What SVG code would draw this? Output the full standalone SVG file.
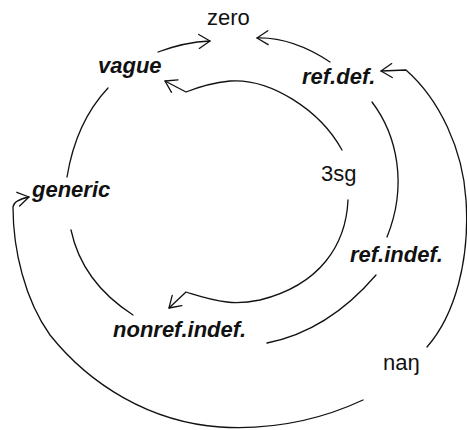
<svg xmlns="http://www.w3.org/2000/svg" width="467" height="430" viewBox="0 0 467 430">
  <style>
    .bg { fill: #ffffff; }
    .lbl { font-family: "Liberation Sans", Arial, sans-serif; font-size: 22px; fill: #111111; }
    .it { font-weight: bold; font-style: italic; }
    .edge { fill: none; stroke: #111111; stroke-width: 1.3; stroke-linecap: round; stroke-linejoin: round; }
    .arrow { marker-end: url(#ah); }
  </style>
  <defs>
    <!-- open V arrowhead -->
    <marker id="ah" markerUnits="userSpaceOnUse" orient="auto" overflow="visible" markerWidth="1" markerHeight="1" refX="0" refY="0">
      <path d="M-11,-7 L0,0 L-11,7" fill="none" stroke="#111111" stroke-width="1.3" stroke-linecap="round" stroke-linejoin="round"/>
    </marker>
  </defs>

  <rect class="bg" x="0" y="0" width="467" height="430"/>

  <g id="connectors">
    <!-- vague -> zero -->
    <path class="edge arrow" d="M158,52 Q185,42 210,41"/>
    <!-- ref.def. -> zero -->
    <path class="edge arrow" d="M330,62 Q292,37 257,38"/>
    <!-- 3sg -> vague -->
    <path class="edge arrow" d="M342,150 C320,110 270,78 230,81 C210,83 196,88 186,92 L165,81"/>
    <!-- 3sg -> nonref.indef. -->
    <path class="edge arrow" d="M348,200 C346,245 320,285 260,300 C245,303 235,303 227,302 C210,300 196,295 186,292 L169,308"/>
    <!-- vague - generic -->
    <path class="edge" d="M108,88 Q76,122 67,177"/>
    <!-- generic - nonref.indef. -->
    <path class="edge" d="M71,230 Q82,282 133,315"/>
    <!-- ref.def. - ref.indef. -->
    <path class="edge" d="M372,102 C397,135 408,185 387,237"/>
    <!-- ref.indef. - nonref.indef. -->
    <path class="edge" d="M376,275 Q328,331 267,343"/>
    <!-- naŋ -> ref.def. -->
    <path class="edge arrow" d="M427,347 C455,315 470,260 466,200 C463,150 440,100 406,70 L381,71"/>
    <!-- naŋ -> generic -->
    <path class="edge arrow" d="M363,400 C320,420 270,430 220,427 C150,422 90,385 50,335 C25,300 13,250 13,207 Q14,200 29,197"/>
  </g>

  <g id="zero"><text class="lbl" x="207" y="25">zero</text></g>
  <g id="vague"><text class="lbl it" x="98" y="73">vague</text></g>
  <g id="ref-def"><text class="lbl it" x="302" y="84">ref.def.</text></g>
  <g id="generic"><text class="lbl it" x="32" y="197">generic</text></g>
  <g id="3sg"><text class="lbl" x="321" y="181">3sg</text></g>
  <g id="ref-indef"><text class="lbl it" x="350" y="262">ref.indef.</text></g>
  <g id="nonref-indef"><text class="lbl it" x="113" y="337">nonref.indef.</text></g>
  <g id="nang"><text class="lbl" x="383" y="370">naŋ</text></g>
</svg>
